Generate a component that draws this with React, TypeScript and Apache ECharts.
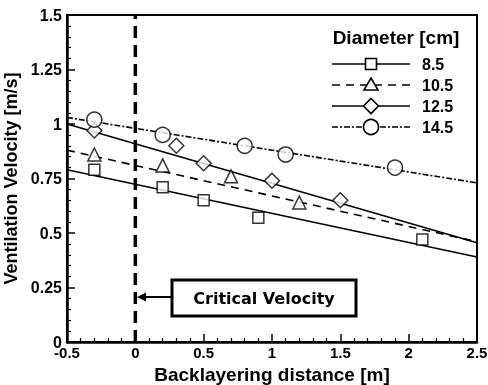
import React, { useEffect, useRef } from "react";
import * as echarts from "echarts";

const xTicks = [-0.5, 2.5];
const yRange = [0, 1.5];

const x85 = [-0.3, 0.2, 0.5, 0.9, 2.1];
const v85 = [0.79, 0.71, 0.65, 0.57, 0.47];
const x105 = [-0.3, 0.2, 0.7, 1.2];
const v105 = [0.86, 0.81, 0.76, 0.64];
const x125 = [-0.3, 0.3, 0.5, 1.0, 1.5];
const v125 = [0.97, 0.9, 0.82, 0.74, 0.65];
const x145 = [-0.3, 0.2, 0.8, 1.1, 1.9];
const v145 = [1.02, 0.95, 0.9, 0.86, 0.8];

const fitX = [-0.5, 2.5];
const fit85 = [0.79, 0.39];
const fit105 = [0.88, 0.46];
const fit125 = [1.0, 0.455];
const fit145 = [1.03, 0.73];

const criticalX = 0;
const names = ["8.5", "10.5", "12.5", "14.5"];

const FONT = "Liberation Sans, Arial, sans-serif";

export default function App() {
  const ref = useRef<HTMLDivElement>(null);
  useEffect(() => {
    if (!ref.current) return;
    const chart = echarts.init(ref.current, undefined, { renderer: "svg" });
    const pts = (xs: number[], ys: number[]) => xs.map((x, i) => [x, ys[i]]);
    const markerStyle = { color: "#fff", borderColor: "#000", borderWidth: 1.5 };
    const lineSeries = (name: string, ys: number[], type: any) => ({
      type: "line",
      name: name + " fit",
      data: pts(fitX, ys),
      showSymbol: false,
      symbol: "none",
      lineStyle: { color: "#000", width: 1.6, type },
      z: 2,
    });
    const scatter = (name: string, xs: number[], ys: number[], symbol: string, size: number) => ({
      type: "scatter",
      name,
      data: pts(xs, ys),
      symbol,
      symbolSize: size,
      itemStyle: markerStyle,
      z: 5,
    });

    // legend via graphic
    const lx0 = 332, lx1 = 410, lmx = 371;
    const rows = [64, 85, 106, 127];
    const dashes: any[] = ["solid", [8, 6], "solid", [6, 2, 2, 2]];
    const legendEls: any[] = [];
    rows.forEach((y, i) => {
      legendEls.push({
        type: "line",
        shape: { x1: lx0, y1: y, x2: lx1, y2: y },
        style: { stroke: "#000", lineWidth: 1.6, lineDash: dashes[i] === "solid" ? null : dashes[i] },
        z: 10,
      });
      const ms = { fill: "#fff", stroke: "#000", lineWidth: 1.6 };
      if (i === 0) legendEls.push({ type: "rect", shape: { x: lmx - 5.5, y: y - 5.5, width: 11, height: 11 }, style: ms, z: 11 });
      if (i === 1) legendEls.push({ type: "polygon", shape: { points: [[lmx, y - 7], [lmx + 7, y + 5], [lmx - 7, y + 5]] }, style: ms, z: 11 });
      if (i === 2) legendEls.push({ type: "polygon", shape: { points: [[lmx, y - 7.5], [lmx + 7.5, y], [lmx, y + 7.5], [lmx - 7.5, y]] }, style: ms, z: 11 });
      if (i === 3) legendEls.push({ type: "circle", shape: { cx: lmx, cy: y, r: 7.5 }, style: ms, z: 11 });
      legendEls.push({
        type: "text",
        x: 422,
        y,
        style: { text: names[i], fill: "#000", font: `bold 16px ${FONT}`, verticalAlign: "middle", align: "left" },
        z: 11,
      });
    });

    chart.setOption({
      animation: false,
      grid: {
        left: 67,
        top: 15,
        right: 11,
        bottom: 43,
        containLabel: false,
        outerBoundsMode: "none",
        show: true,
        borderColor: "#000",
        borderWidth: 2,
        backgroundColor: "transparent",
      },
      xAxis: {
        type: "value",
        min: xTicks[0],
        max: xTicks[1],
        interval: 0.5,
        name: "Backlayering distance [m]",
        nameLocation: "middle",
        nameGap: 21,
        nameTextStyle: { fontFamily: FONT, fontWeight: "bold", fontSize: 19, color: "#000" },
        axisLine: { show: true, onZero: false, lineStyle: { color: "#000", width: 2.5 } },
        axisTick: { show: true, inside: true, length: 8, lineStyle: { color: "#000", width: 1.5 } },
        minorTick: { show: true, splitNumber: 5, length: 4, lineStyle: { color: "#000", width: 1.2 } },
        splitLine: { show: false },
        axisLabel: {
          margin: 3,
          fontFamily: FONT,
          fontWeight: "bold",
          fontSize: 15,
          color: "#000",
          formatter: (v: number) => String(v),
        },
      },
      yAxis: {
        type: "value",
        min: yRange[0],
        max: yRange[1],
        interval: 0.25,
        name: "Ventilation Velocity [m/s]",
        nameLocation: "middle",
        nameGap: 43,
        nameTextStyle: { fontFamily: FONT, fontWeight: "bold", fontSize: 18, color: "#000" },
        axisLine: { show: true, onZero: false, lineStyle: { color: "#000", width: 2.5 } },
        axisTick: { show: true, inside: true, length: 8, lineStyle: { color: "#000", width: 1.5 } },
        minorTick: { show: true, splitNumber: 5, length: 4, lineStyle: { color: "#000", width: 1.2 } },
        splitLine: { show: false },
        axisLabel: {
          margin: 5,
          fontFamily: FONT,
          fontWeight: "bold",
          fontSize: 16,
          color: "#000",
          formatter: (v: number) => String(v),
        },
      },
      series: [
        {
          type: "line",
          name: "critical",
          data: [[criticalX, yRange[0]], [criticalX, yRange[1]]],
          showSymbol: false,
          symbol: "none",
          lineStyle: { color: "#000", width: 3.5, type: [12, 7] },
          z: 1,
        },
        lineSeries("8.5", fit85, "solid"),
        lineSeries("10.5", fit105, [8, 6]),
        lineSeries("12.5", fit125, "solid"),
        lineSeries("14.5", fit145, [6, 2, 2, 2]),
        scatter("8.5", x85, v85, "rect", 11),
        scatter("10.5", x105, v105, "triangle", 13),
        scatter("12.5", x125, v125, "diamond", 15),
        scatter("14.5", x145, v145, "circle", 15),
      ],
      graphic: [
        {
          type: "text",
          x: 396,
          y: 37,
          style: { text: "Diameter [cm]", fill: "#000", font: `bold 19px ${FONT}`, align: "center", verticalAlign: "middle" },
          z: 11,
        },
        ...legendEls,
        {
          type: "rect",
          shape: { x: 172, y: 280, width: 184, height: 36 },
          style: { fill: "#fff", stroke: "#000", lineWidth: 3 },
          z: 11,
        },
        {
          type: "text",
          x: 264,
          y: 298,
          style: { text: "Critical Velocity", fill: "#000", font: `bold 16px DejaVu Sans, sans-serif`, align: "center", verticalAlign: "middle" },
          z: 12,
        },
        {
          type: "line",
          shape: { x1: 171, y1: 297, x2: 143, y2: 297 },
          style: { stroke: "#000", lineWidth: 2 },
          z: 11,
        },
        {
          type: "polygon",
          shape: { points: [[137, 297], [146, 292.5], [146, 301.5]] },
          style: { fill: "#000" },
          z: 11,
        },
      ],
    });
    return () => chart.dispose();
  }, []);
  return <div ref={ref} style={{ position: "fixed", left: 0, top: 0, width: 488, height: 385 }} />;
}
